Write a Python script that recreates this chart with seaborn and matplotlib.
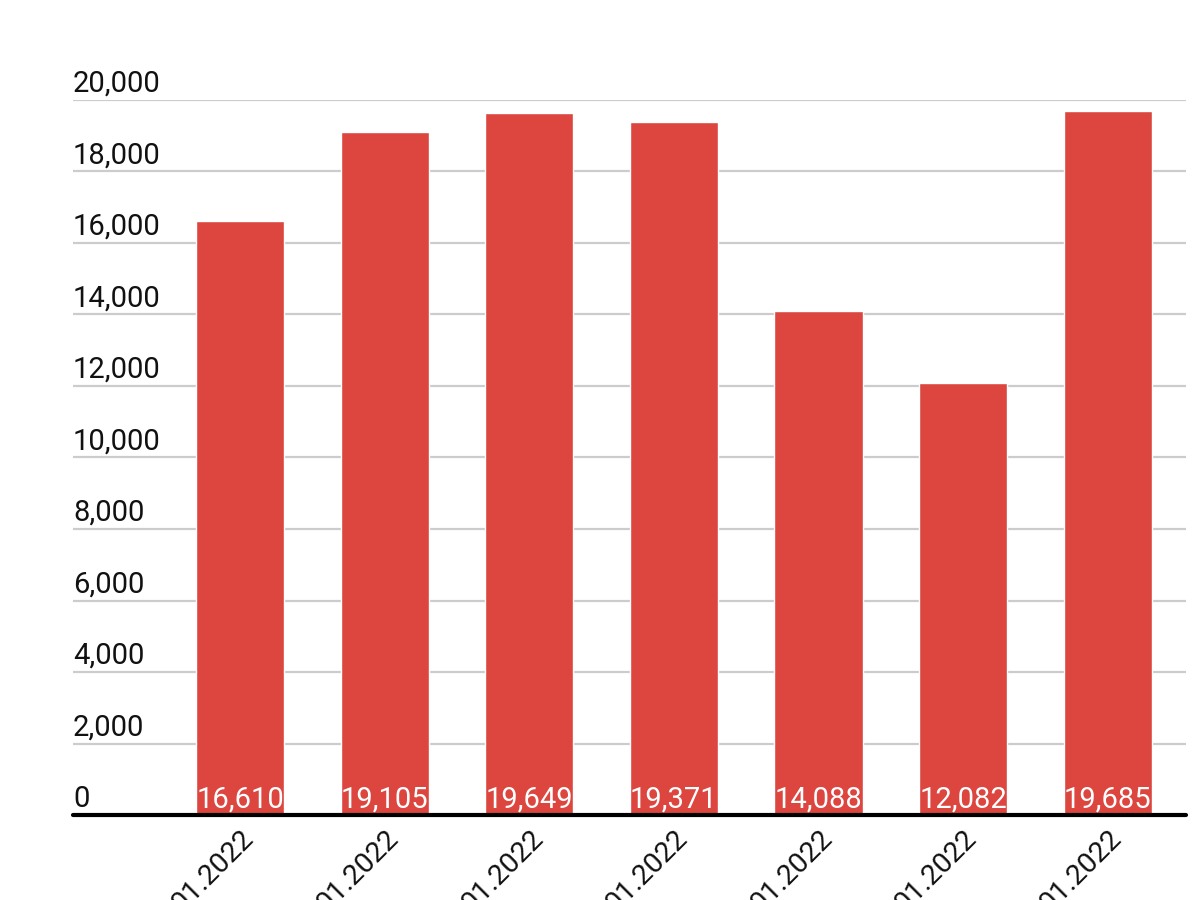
import matplotlib
matplotlib.use("Agg")
import matplotlib.pyplot as plt
import matplotlib.transforms as mtransforms
import seaborn as sns
import pandas as pd

# valores (las fechas salen cortadas abajo)
dias = ["01.2022", "01.2022", "01.2022", "01.2022", "01.2022", "01.2022", "01.2022"]
valores = [16610, 19105, 19649, 19371, 14088, 12082, 19685]
ticks_y = [0, 2000, 4000, 6000, 8000, 10000, 12000, 14000, 16000, 18000, 20000]

datos = pd.DataFrame({"pos": list(range(len(valores))), "valor": valores})

sns.set_theme(style="white")
plt.rcParams["font.family"] = ["Roboto", "DejaVu Sans"]

fig = plt.figure(figsize=(12, 9), dpi=100)
ax = fig.add_axes([73 / 1200, 1 - 815 / 900, (1186 - 73) / 1200, (815 - 100) / 900])

sns.barplot(x="pos", y="valor", data=datos, color="#DC463F", saturation=1,
            width=0.61, errorbar=None, ax=ax, zorder=2)

ax.set_xlim(-1.155, 6.542)
ax.set_ylim(0, 20000)
ax.set_yticks(ticks_y)
ax.set_yticklabels([])
ax.tick_params(axis="y", length=0)
ax.grid(axis="y", color="#cccccc", lw=1.6, zorder=0)
ax.set_axisbelow(True)
for s in ax.spines.values():
    s.set_visible(False)
ax.axhline(0, color="black", lw=3, zorder=3, clip_on=False)

# etiquetas del eje y encima de las lineas, alineadas a la izquierda
trans_y = mtransforms.offset_copy(ax.get_yaxis_transform(), fig=fig, x=0, y=6, units="points")
for v in ticks_y:
    ax.text(0, v, f"{v:,}", transform=trans_y, ha="left", va="baseline",
            fontsize=21, color="#111111")

# valores en blanco al pie de cada barra
trans_v = mtransforms.offset_copy(ax.transData, fig=fig, x=0, y=5, units="points")
for i, v in enumerate(valores):
    ax.text(i, 0, f"{v:,}", transform=trans_v, ha="center", va="baseline",
            fontsize=21, color="white", zorder=4)

ax.set_xticks(range(len(dias)))
ax.set_xticklabels(dias, rotation=45, ha="right", va="top", rotation_mode="anchor",
                   fontsize=20.5, color="#111111")
ax.tick_params(axis="x", length=0, pad=7)
ax.set_xlabel("")
ax.set_ylabel("")

fig.savefig("out.png", dpi=100)
